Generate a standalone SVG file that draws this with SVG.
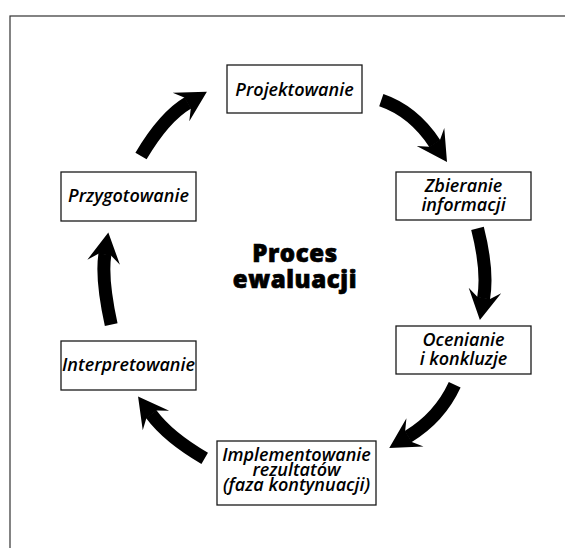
<svg xmlns="http://www.w3.org/2000/svg" width="565" height="548" viewBox="0 0 565 548">
  <style>
    .box { fill: #ffffff; stroke: #1a1a1a; stroke-width: 1.3; }
    .lbl { font-family: "Open Sans", "Noto Sans", "DejaVu Sans", sans-serif; font-style: italic; font-weight: 600; font-size: 18px; fill: #000; text-anchor: middle; }
    .title { font-family: "Open Sans", "Noto Sans", "DejaVu Sans", sans-serif; font-weight: 800; font-size: 24px; letter-spacing: 0.6px; fill: #000; stroke: #000; stroke-width: 0.7; text-anchor: middle; }
    .arc { fill: none; stroke: #000; stroke-width: 13; stroke-linecap: butt; marker-end: url(#head); }
  </style>
  <defs>
    <!-- swept-back arrowhead; origin sits at the end of the shaft -->
    <marker id="head" markerUnits="userSpaceOnUse" orient="auto" refX="0" refY="0"
            markerWidth="80" markerHeight="80" viewBox="-40 -40 80 80" overflow="visible">
      <path d="M22,0 L-8,-16.5 L-0.5,-6.5 L-0.5,6.5 L-8,16.5 Z" fill="#000"/>
    </marker>
  </defs>

  <!-- outer frame -->
  <rect x="10" y="16" width="600" height="600" fill="none" stroke="#333" stroke-width="1.2"/>

  <!-- curved cycle arrows -->
  <g id="connectors">
    <path class="arc" d="M141,156 Q164.4,116.6 187.9,102.9"/>
    <path class="arc" d="M381.3,100.2 Q413.5,111.2 434.9,143.7"/>
    <path class="arc" d="M477.5,228.4 Q488.3,270.9 483.6,298.3"/>
    <path class="arc" d="M454.7,384.8 Q439.5,417.7 408.1,436.6"/>
    <path class="arc" d="M204.7,458.3 Q168.4,437.2 151.2,414.1"/>
    <path class="arc" d="M111.2,324.7 Q101.1,278.4 104.9,254.3"/>
  </g>

  <g id="projektowanie">
    <rect class="box" x="227" y="65" width="135" height="48"/>
    <text class="lbl" x="294.5" y="96">Projektowanie</text>
  </g>

  <g id="zbieranie">
    <rect class="box" x="396" y="172" width="135" height="48"/>
    <text class="lbl" x="463.5" y="192">Zbieranie</text>
    <text class="lbl" x="463.5" y="211">informacji</text>
  </g>

  <g id="ocenianie">
    <rect class="box" x="396" y="326" width="135" height="48"/>
    <text class="lbl" x="463.5" y="346">Ocenianie</text>
    <text class="lbl" x="463.5" y="365">i konkluzje</text>
  </g>

  <g id="implementowanie">
    <rect class="box" x="217" y="441" width="159" height="64"/>
    <text class="lbl" x="296.5" y="461">Implementowanie</text>
    <text class="lbl" x="296.5" y="476">rezultatów</text>
    <text class="lbl" x="296.5" y="491">(faza kontynuacji)</text>
  </g>

  <g id="interpretowanie">
    <rect class="box" x="61" y="341" width="135" height="49"/>
    <text class="lbl" x="128.5" y="371">Interpretowanie</text>
  </g>

  <g id="przygotowanie">
    <rect class="box" x="61" y="172" width="135" height="49"/>
    <text class="lbl" x="128.5" y="202">Przygotowanie</text>
  </g>

  <g id="title">
    <text class="title" x="295" y="262">Proces</text>
    <text class="title" x="295" y="288">ewaluacji</text>
  </g>
</svg>
